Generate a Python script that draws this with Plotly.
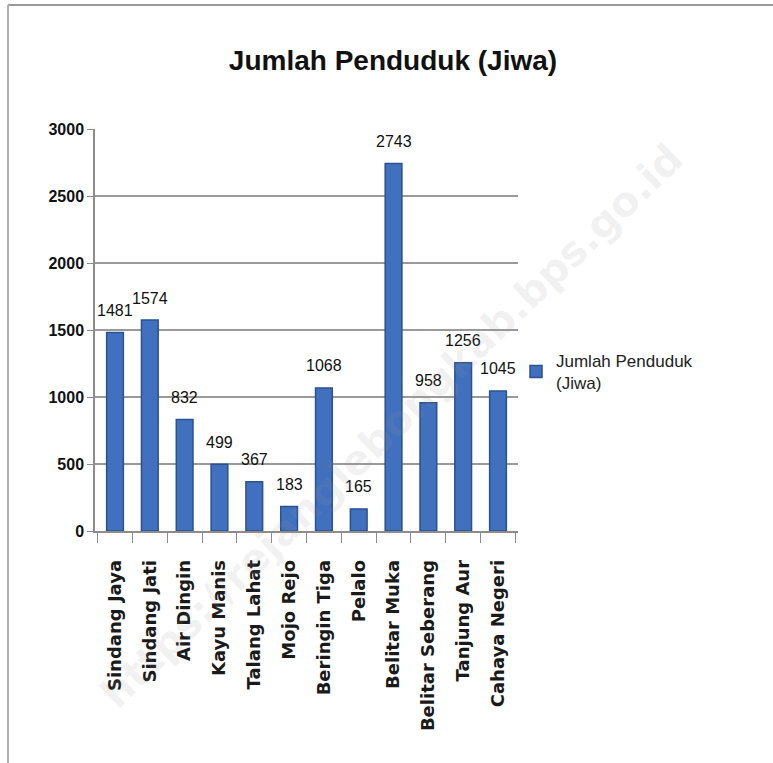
import plotly.graph_objects as go

categories = ["Sindang Jaya", "Sindang Jati", "Air Dingin", "Kayu Manis", "Talang Lahat",
              "Mojo Rejo", "Beringin Tiga", "Pelalo", "Belitar Muka", "Belitar Seberang",
              "Tanjung Aur", "Cahaya Negeri"]
values = [1481, 1574, 832, 499, 367, 183, 1068, 165, 2743, 958, 1256, 1045]
y_ticks = [0, 500, 1000, 1500, 2000, 2500, 3000]
series_name = "Jumlah Penduduk<br>(Jiwa)"
title_text = "Jumlah Penduduk (Jiwa)"
watermark = "https://rejanglebongkab.bps.go.id"

W, H = 773, 763
L, R, T, B = 95, 255, 129, 232
PW, PH = W - L - R, H - T - B

SANS = "Liberation Sans, Arial, sans-serif"


def px_x(x):
    return (x - L) / PW


def px_y(y):
    return (H - B - y) / PH


fig = go.Figure()
fig.add_trace(go.Bar(
    x=categories, y=values, name=series_name,
    marker=dict(color="#4171BE", line=dict(color="#2A528F", width=1.5)),
))

label_annotations = [
    dict(x=c, y=v, xref="x", yref="y", text=str(v), showarrow=False,
         yanchor="middle", yshift=22,
         font=dict(family=SANS, size=16, color="#111111"))
    for c, v in zip(categories, values)
]

fig.update_layout(
    width=W, height=H,
    margin=dict(l=L, r=R, t=T, b=B, autoexpand=False),
    paper_bgcolor="white", plot_bgcolor="white",
    bargap=0.52,
    showlegend=True,
    title=dict(text=title_text, x=393 / W, xref="container", xanchor="center",
               y=1 - 60 / H, yref="container", yanchor="middle",
               font=dict(family=SANS, size=28, color="#111111", weight="bold")),
    legend=dict(x=px_x(516), y=px_y(372), xanchor="left", yanchor="middle",
                font=dict(family=SANS, size=17, color="#222222"),
                bgcolor="rgba(0,0,0,0)", itemwidth=30),
    xaxis=dict(tickangle=-90,
               tickfont=dict(family="DejaVu Sans, sans-serif", size=18, color="#1A1A1A",
                             weight="bold"),
               ticklabelstandoff=20,
               showline=True, linecolor="#8C8C8C", linewidth=1.5,
               ticks="outside", tickson="boundaries", ticklen=10, tickcolor="#8C8C8C"),
    yaxis=dict(range=[0, 3000], tickvals=y_ticks,
               tickfont=dict(family=SANS, size=16, color="#111111", weight="bold"),
               showgrid=True, gridcolor="#9A9A9A", gridwidth=1.5,
               showline=True, linecolor="#8C8C8C", linewidth=1.5,
               ticks="outside", ticklen=6, tickcolor="#8C8C8C", zeroline=False),
    shapes=[
        dict(type="line", xref="paper", yref="paper",
             x0=px_x(8), x1=px_x(W + 5), y0=px_y(5), y1=px_y(5),
             line=dict(color="#9A9A9A", width=2)),
        dict(type="line", xref="paper", yref="paper",
             x0=px_x(8), x1=px_x(8), y0=px_y(5), y1=px_y(H + 5),
             line=dict(color="#B0B0B0", width=2)),
    ],
    annotations=label_annotations + [
        dict(text=watermark, xref="paper", yref="paper",
             x=px_x(392), y=px_y(426), xanchor="center", yanchor="middle",
             showarrow=False, textangle=-44,
             font=dict(family="DejaVu Sans, sans-serif", size=41,
                       color="rgba(150,150,150,0.12)", weight="bold")),
    ],
)

fig.write_html("out.html", config={"displayModeBar": False},
               post_script="document.body.style.margin='0';")
